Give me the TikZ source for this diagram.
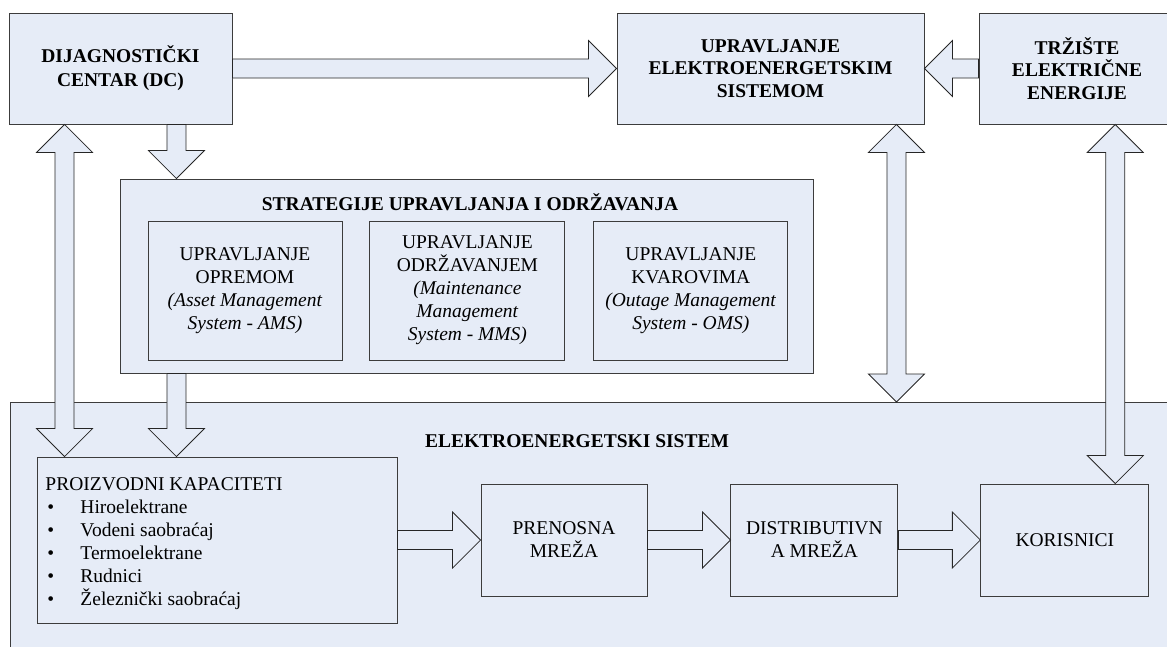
\documentclass[tikz,border=0pt]{standalone}
\usepackage{fontspec}
\setmainfont{Liberation Serif}
\usetikzlibrary{positioning,calc}
\definecolor{boxfill}{RGB}{230,236,247}
\definecolor{boxline}{RGB}{60,60,60}
\tikzset{
    every picture/.style={line width=0.9pt},
    box/.style={draw=boxline,fill=boxfill,inner sep=0pt,align=center},
    blockarr/.style={draw=black!85,fill=boxfill,line width=0.8pt,line join=miter}
}
% block arrow: tail #1, tip #2
\newcommand{\blkarrow}[2]{%
    \draw[blockarr] ($(#1)!9.5pt!90:(#2)$)
        -- ($(#2)!28pt!(#1)!9.5pt!-90:(#1)$)
        -- ($(#2)!28pt!(#1)!28pt!-90:(#1)$)
        -- (#2)
        -- ($(#2)!28pt!(#1)!28pt!90:(#1)$)
        -- ($(#2)!28pt!(#1)!9.5pt!90:(#1)$)
        -- ($(#1)!9.5pt!-90:(#2)$) -- cycle;}
% block arrow with two heads
\newcommand{\dblarrow}[2]{%
    \draw[blockarr] (#1)
        -- ($(#1)!28pt!(#2)!28pt!90:(#2)$)
        -- ($(#1)!28pt!(#2)!9.5pt!90:(#2)$)
        -- ($(#2)!28pt!(#1)!9.5pt!-90:(#1)$)
        -- ($(#2)!28pt!(#1)!28pt!-90:(#1)$)
        -- (#2)
        -- ($(#2)!28pt!(#1)!28pt!90:(#1)$)
        -- ($(#2)!28pt!(#1)!9.5pt!90:(#1)$)
        -- ($(#1)!28pt!(#2)!9.5pt!-90:(#2)$)
        -- ($(#1)!28pt!(#2)!28pt!-90:(#2)$) -- cycle;}

\begin{document}
\begin{tikzpicture}[x=1pt,y=-1pt,font=\fontsize{19.5}{23}\selectfont]
    \useasboundingbox (0,0) rectangle (1167,646);

    % Upper row
    \node[box,minimum width=223pt,minimum height=111pt,font=\fontsize{19.5}{24}\selectfont\bfseries]
        (dc) at (120.5,68.5) {DIJAGNOSTIČKI\\CENTAR (DC)};
    \node[box,minimum width=307pt,minimum height=111pt,font=\fontsize{19.5}{22.5}\selectfont\bfseries]
        (uees) at (770.5,68.5) {UPRAVLJANJE\\ELEKTROENERGETSKIM\\SISTEMOM};
    \node[box,minimum width=196pt,minimum height=111pt,font=\fontsize{19.5}{22.5}\selectfont\bfseries]
        (trziste) at (1077,68.5) {TRŽIŠTE\\ELEKTRIČNE\\ENERGIJE};

    % Strategies
    \node[box,minimum width=693pt,minimum height=194pt] (strat) at (466.5,276) {};
    \node[font=\fontsize{19.5}{23}\selectfont\bfseries] (strattitle) at (470,202) {STRATEGIJE UPRAVLJANJA I ODRŽAVANJA};
    \node[box,minimum width=194pt,minimum height=139pt] (ams) at (245,290.5)
        {UPRAVLJANJE\\OPREMOM\\\textit{(Asset Management}\\\textit{System - AMS)}};
    \node[box,minimum width=195pt,minimum height=139pt,right=27pt of ams] (mms)
        {UPRAVLJANJE\\ODRŽAVANJEM\\\textit{(Maintenance}\\\textit{Management}\\\textit{System - MMS)}};
    \node[box,minimum width=194pt,minimum height=139pt,right=28pt of mms] (oms)
        {UPRAVLJANJE\\KVAROVIMA\\\textit{(Outage Management}\\\textit{System - OMS)}};

    % Power system
    \node[box,anchor=north west,minimum width=1180pt,minimum height=260pt] (ees) at (10,402) {};
    \node[font=\fontsize{19.5}{23}\selectfont\bfseries] (eestitle) at (577,441) {ELEKTROENERGETSKI SISTEM};
    \node[box,minimum width=360pt,minimum height=166pt] (proiz) at (217,540) {};
    \node[anchor=north west,align=left,inner sep=0pt,font=\fontsize{19.5}{23}\selectfont] (proiztxt) at (45,477)
        {PROIZVODNI KAPACITETI\\
         \makebox[35pt][l]{\hspace{2pt}\textbullet}Hiroelektrane\\
         \makebox[35pt][l]{\hspace{2pt}\textbullet}Vodeni saobraćaj\\
         \makebox[35pt][l]{\hspace{2pt}\textbullet}Termoelektrane\\
         \makebox[35pt][l]{\hspace{2pt}\textbullet}Rudnici\\
         \makebox[35pt][l]{\hspace{2pt}\textbullet}Železnički saobraćaj};
    \node[box,minimum width=166pt,minimum height=112pt] (prenos) at (564,540) {PRENOSNA\\MREŽA};
    \node[box,minimum width=167pt,minimum height=112pt,right=83pt of prenos] (distrib) {DISTRIBUTIVN\\A MREŽA};
    \node[box,minimum width=168pt,minimum height=112pt,right=82pt of distrib] (korisn) {KORISNICI};

    % Arrow end points
    \coordinate (dcA) at ($(dc.south west)!.25!(dc.south east)$);
    \coordinate (dcB) at ($(dc.south west)!.75!(dc.south east)$);
    \coordinate (proizA) at (dcA |- proiz.north);
    \coordinate (proizB) at (dcB |- proiz.north);
    \coordinate (stratN) at (dcB |- strat.north);
    \coordinate (stratS) at (dcB |- strat.south);
    \coordinate (ueesA) at ($(uees.south east)+(-28,0)$);
    \coordinate (eesA) at (ueesA |- ees.north);
    \coordinate (korA) at ($(korisn.north east)+(-34,0)$);
    \coordinate (trzA) at (korA |- trziste.south);

    % Arrows
    \blkarrow{dc.east}{uees.west}
    \blkarrow{trziste.west}{uees.east}
    \blkarrow{dcB}{stratN}
    \blkarrow{stratS}{proizB}
    \dblarrow{dcA}{proizA}
    \dblarrow{ueesA}{eesA}
    \dblarrow{trzA}{korA}
    \blkarrow{proiz.east}{prenos.west}
    \blkarrow{prenos.east}{distrib.west}
    \blkarrow{distrib.east}{korisn.west}
\end{tikzpicture}
\end{document}
